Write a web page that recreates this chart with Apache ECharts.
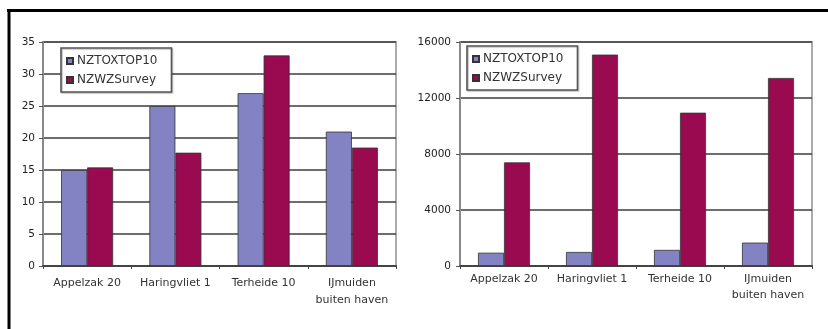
<!DOCTYPE html>
<html>
<head>
<meta charset="utf-8">
<script src="https://cdn.jsdelivr.net/npm/echarts@6/dist/echarts.min.js"></script>
<style>
  html, body { margin: 0; padding: 0; background: #fff; }
  #chart { width: 828px; height: 329px; }
</style>
</head>
<body>
<div id="chart"></div>
<script>
// Sampling sites
const categories = ['Appelzak 20', 'Haringvliet 1', 'Terheide 10', 'IJmuiden\nbuiten haven'];
const seriesNames = ['NZTOXTOP10', 'NZWZSurvey'];

// Left panel values
const leftTox = [15, 25, 27, 21];
const leftSurvey = [15.4, 17.7, 32.9, 18.5];
const leftTicks = { min: 0, max: 35, interval: 5 };

// Right panel values
const rightTox = [950, 1000, 1150, 1670];
const rightSurvey = [7400, 15100, 10950, 13430];
const rightTicks = { min: 0, max: 16000, interval: 4000 };

const colors = ['#8383c3', '#990a50'];
const FONT = 'DejaVu Sans';

function xAxisFor(gridIndex, margin, lineHeight) {
  return {
    type: 'category', gridIndex: gridIndex, data: categories,
    axisLine: { lineStyle: { color: '#444', width: 2 } },
    axisTick: { show: true, length: 3, lineStyle: { color: '#444' } },
    axisLabel: { color: '#333', fontFamily: FONT, fontSize: 11, margin: margin, lineHeight: lineHeight, interval: 0 }
  };
}
function yAxisFor(gridIndex, ticks, margin) {
  return {
    type: 'value', gridIndex: gridIndex, min: ticks.min, max: ticks.max, interval: ticks.interval,
    axisLine: { show: true, lineStyle: { color: '#8a8a8a', width: 2 } },
    axisTick: { show: true, length: 4, lineStyle: { color: '#555' } },
    axisLabel: { color: '#222', fontFamily: FONT, fontSize: 10.5, margin: margin, formatter: v => String(v) },
    splitLine: { show: true, lineStyle: { color: '#3c3c3c', width: 1.6 } }
  };
}
function barSeries(name, data, idx, color) {
  return {
    name: name, type: 'bar', xAxisIndex: idx, yAxisIndex: idx, data: data,
    barWidth: 26, barGap: '0%',
    itemStyle: { color: color, borderColor: '#333', borderWidth: 0.8 },
    animation: false
  };
}
function legendAt(left, top) {
  return {
    left: left, top: top, orient: 'vertical', data: seriesNames,
    icon: 'rect', itemWidth: 6, itemHeight: 6, itemGap: 7,
    padding: [7, 14, 6, 5],
    backgroundColor: '#fff', borderColor: '#555', borderWidth: 1.6,
    shadowColor: 'rgba(0,0,0,0.25)', shadowOffsetX: 1, shadowOffsetY: 1, shadowBlur: 1,
    textStyle: { color: '#333', fontFamily: FONT, fontSize: 12, padding: [0, 0, 0, -1] },
    selectedMode: false
  };
}

const chart = echarts.init(document.getElementById('chart'), null, { renderer: 'canvas' });
chart.setOption({
  animation: false,
  color: colors,
  grid: [
    { left: 43, right: 432, top: 42, bottom: 63, show: true, borderColor: '#aaa', borderWidth: 2, backgroundColor: 'transparent' },
    { left: 460, right: 16, top: 42, bottom: 63, show: true, borderColor: '#aaa', borderWidth: 2, backgroundColor: 'transparent' }
  ],
  xAxis: [xAxisFor(0, 9, 17), xAxisFor(1, 5, 16)],
  yAxis: [yAxisFor(0, leftTicks, 8), yAxisFor(1, rightTicks, 9)],
  legend: [legendAt(61, 48), legendAt(467, 46)],
  series: [
    barSeries(seriesNames[0], leftTox, 0, colors[0]),
    barSeries(seriesNames[1], leftSurvey, 0, colors[1]),
    barSeries(seriesNames[0], rightTox, 1, colors[0]),
    barSeries(seriesNames[1], rightSurvey, 1, colors[1])
  ],
  graphic: [
    { type: 'line', shape: { x1: 7, y1: 10.5, x2: 828, y2: 10.5 }, style: { stroke: '#000', lineWidth: 3 } },
    { type: 'line', shape: { x1: 9, y1: 9, x2: 9, y2: 329 }, style: { stroke: '#000', lineWidth: 3 } }
  ]
});
</script>
</body>
</html>
